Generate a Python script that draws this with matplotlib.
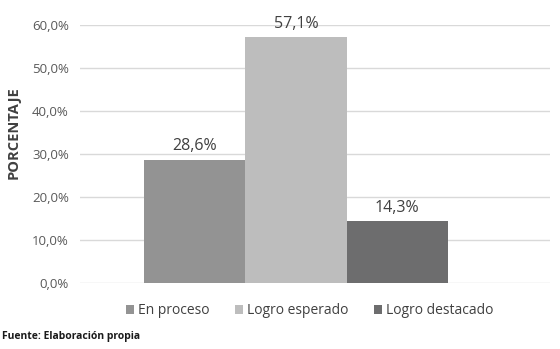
import matplotlib
matplotlib.use("Agg")
import matplotlib.pyplot as plt
from matplotlib.patches import Patch

categories = ["En proceso", "Logro esperado", "Logro destacado"]
values = [28.6, 57.1, 14.3]
value_labels = ["28,6%", "57,1%", "14,3%"]
yticks = [0, 10, 20, 30, 40, 50, 60]
ytick_labels = ["0,0%", "10,0%", "20,0%", "30,0%", "40,0%", "50,0%", "60,0%"]
colors = ["#939393", "#bdbdbd", "#6d6d6e"]

FONT = ["Open Sans", "DejaVu Sans"]
plt.rcParams["font.family"] = FONT

fig = plt.figure(figsize=(5.6, 3.49), dpi=100)
ax = fig.add_axes([80/560, (349-282.7)/349, 470/560, (282.7-25)/349])

positions = [-1, 0, 1]
bars = ax.bar(positions, values, width=1.0, color=colors, zorder=3)

for b, lab in zip(bars, value_labels):
    ax.annotate(lab, (b.get_x() + b.get_width()/2, b.get_height()),
                xytext=(0, 4), textcoords="offset points",
                ha="center", va="bottom", fontsize=11.5, color="#404040",
                annotation_clip=False)

ax.set_xlim(-2.132, 2.507)
ax.set_ylim(0, 60)
ax.set_yticks(yticks)
ax.set_yticklabels(ytick_labels, fontsize=9.5, color="#595959")
ax.set_xticks([])
ax.tick_params(axis="y", length=0, pad=8)
for s in ax.spines.values():
    s.set_visible(False)
ax.grid(axis="y", color="#d9d9d9", linewidth=1.0, zorder=0)
ax.set_axisbelow(True)

fig.text(14/560, 1 - 133/349, "PORCENTAJE", rotation=90, ha="center", va="center",
         fontsize=10.5, fontweight="bold", color="#404040")

handles = [Patch(facecolor=c, edgecolor="none") for c in colors]
fig.legend(handles, categories, loc="center", bbox_to_anchor=(309.5/560, 1 - 311/349),
           ncol=3, frameon=False, fontsize=10, labelcolor="#404040",
           handlelength=0.6, handleheight=0.6, handletextpad=0.3, columnspacing=1.8)

fig.text(2/560, 1 - 337/349, "Fuente: Elaboración propia", ha="left", va="center",
         fontsize=7.5, fontweight="bold", color="#1a1a1a")

fig.savefig("out.png", dpi=100)
